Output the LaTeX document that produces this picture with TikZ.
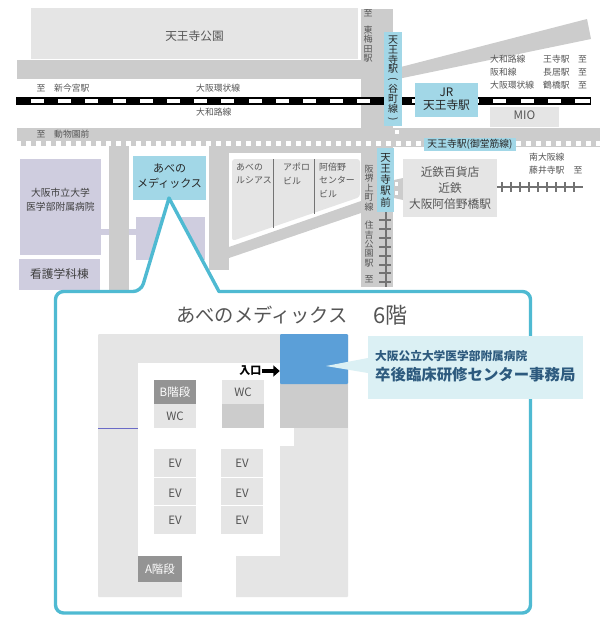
\documentclass[tikz,border=0pt]{standalone}
\usepackage{fontspec}
\setmainfont{Noto Sans CJK JP}
\usetikzlibrary{arrows.meta}
\definecolor{road}{HTML}{CCCCCC}
\definecolor{plan}{HTML}{E5E5E5}
\definecolor{ward}{HTML}{CFCDDF}
\definecolor{sky}{HTML}{A2D7E7}
\definecolor{frame}{HTML}{4FBAD2}
\definecolor{pale}{HTML}{DBF0F4}
\definecolor{office}{HTML}{5B9FD8}
\definecolor{ink}{HTML}{555555}
\definecolor{navy}{HTML}{2D5A7E}
\newcommand{\vparen}[1]{\raisebox{5pt}[0pt][0pt]{\rotatebox{-90}{#1}}}
\begin{document}
\begin{tikzpicture}
[
  x=1pt,y=-1pt,
  roadway/.style={fill=road},
  block/.style={fill=plan,rounded corners=2.5pt},
  lilac/.style={fill=ward,rounded corners=3pt},
  station/.style={fill=sky,rounded corners=3pt},
  stair/.style={fill=black!42,rounded corners=1pt},
  small/.style={inner sep=0pt,text=ink,font=\fontsize{8.8}{10}\selectfont},
  placename/.style={inner sep=0pt,text=ink,align=center,font=\fontsize{11.7}{16}\selectfont},
  tiny/.style={inner sep=0pt,text=ink,align=left,font=\fontsize{8.9}{13.3}\selectfont},
  down/.style={inner sep=0pt,text=ink,align=center,font=\fontsize{9}{9.4}\selectfont},
  dark/.style={inner sep=0pt,text=black!85,align=center},
  room/.style={inner sep=0pt,text=ink,font=\fontsize{11.5}{13}\selectfont},
  stairtext/.style={inner sep=0pt,text=white,font=\fontsize{11.5}{13}\selectfont},
  track/.style={draw=black!55,line width=1.3pt},
  callout/.style={draw=frame,line width=3.4pt,fill=white,line join=round}
]
\useasboundingbox (0,0) rectangle (610,622);

% roads
\fill (17,60) rectangle (361,79) [roadway];
\fill (361,9) rectangle (393,287) [roadway];
\fill (17,128) rectangle (600,147) [roadway];
\fill (109,147) rectangle (129,290) [roadway];
\fill (209,147) rectangle (229,270) [roadway];
\fill (229,147) rectangle (361,153) [roadway];
\fill (393,69) -- (587,19) -- (591,39) -- (393,80) -- cycle [roadway];
\fill (229,247) -- (361,201) -- (361,213) -- (229,258) -- cycle [roadway];
\foreach \x in {16,26,...,596}
  \fill[white] (\x,141) rectangle +(5,5);
\fill[white] (395,130) rectangle +(4,4);
\fill[white] (17,146) rectangle (109,148);
\fill[white] (129,146) rectangle (209,148);

% park
\fill (31,8) rectangle (358,59) [block] node[midway,placename,yshift=-2.5pt] (park) {天王寺公園};

% JR line
\fill (16,97) rectangle (591,105);
\foreach \n in {0,...,20}
  \fill[white] (31+27.2*\n,99) rectangle +(13,4);
\fill[white] (577,99) rectangle +(13,4);

\node[small] (toshin) at (41,88) {至};
\node[small,anchor=west] (shinimamiya) at (54,88) {新今宮駅};
\node[small,anchor=west] (kanjo) at (196,88) {大阪環状線};
\node[small,anchor=west] (yamatoji) at (196,112) {大和路線};
\node[small] (todo) at (41,134) {至};
\node[small,anchor=west] (dobutsuen) at (54,134) {動物園前};

\node[down] (tohigashi) at (368,13) {至};
\node[down] (higashiumeda) at (368,44) {東\\梅\\田\\駅};

% tanimachi line
\fill (384,32) rectangle (402,126) [station];
\node[dark,font=\fontsize{10}{9.9}\selectfont] (tanimachi) at (393,79) {天\\王\\寺\\駅\\\vparen{(}\\谷\\町\\線\\\vparen{)}};

\fill (415,83) rectangle (478,117) [station] node[midway,dark,yshift=1pt,font=\fontsize{11.7}{13.5}\selectfont] (jr) {JR\\天王寺駅};
\fill (490,107) rectangle (559,127) [block] node[midway,placename,yshift=2pt] (mio) {MIO};

\node[tiny,anchor=north west,font=\fontsize{8.8}{13}\selectfont] (linesE) at (490,55) {大和路線\\阪和線\\大阪環状線};
\node[tiny,anchor=north west,font=\fontsize{8.8}{13}\selectfont] (stationsE) at (543,55) {王寺駅\\長居駅\\鶴橋駅};
\node[tiny,anchor=north west,font=\fontsize{8.8}{13}\selectfont] (toE) at (578,55) {至\\至\\至};

\fill (424,138) rectangle (516,151) [station] node[midway,dark,font=\fontsize{9.8}{11}\selectfont] (midosuji) {天王寺駅(御堂筋線)};

% hospital side
\fill (20,159) rectangle (101,255) [lilac] node[midway,dark,yshift=7pt,text=black!75,font=\fontsize{9.8}{14.5}\selectfont] (hospital) {大阪市立大学\\医学部附属病院};
\fill (19,259) rectangle (100,290) [lilac] node[midway,dark,text=black!75,font=\fontsize{11.7}{13}\selectfont] (nursing) {看護学科棟};
\fill[ward] (101,229) rectangle (109,235);
\fill[ward] (129,229) rectangle (137,235);
\fill (136,217) rectangle (205,260) [lilac];
\fill (133,156) rectangle (206,200) [station] node[midway,dark,yshift=1.5pt,font=\fontsize{11}{15}\selectfont] (medix) {あべの\\メディックス};

% shops
\fill[plan,rounded corners=3pt] (232,159) -- (360,159) -- (360,197) -- (232,241) -- cycle;
\draw[black!55,thick] (273,159) -- (273,228);
\draw[black!55,thick] (314,159) -- (314,214);
\node[tiny,anchor=north west] (lucias) at (236,163) {あべの\\ルシアス};
\node[tiny,anchor=north west] (apollo) at (283,163) {アポロ\\ビル};
\node[tiny,anchor=north west] (center) at (319,163) {阿倍野\\センター\\ビル};

% streetcar
\draw[track] (386,212) -- (386,287);
\foreach \y in {220,229,238,247,256,265,273,282}
  \draw[track] (379,\y) -- (391,\y);
\fill (377,148) rectangle (394,212) [station];
\node[dark,font=\fontsize{10.5}{11.2}\selectfont] (ekimae) at (385.5,180) {天\\王\\寺\\駅\\前};
\node[down] (hankai) at (369,188) {阪\\堺\\上\\町\\線};
\node[down] (sumiyoshi) at (369,244) {住\\吉\\公\\園\\駅};
\node[down] (tostreet) at (369,279) {至};

% kintetsu
\fill[road] (394,180) -- (403,178) -- (403,200) -- (394,198) -- cycle;
\fill[white] (395,182) rectangle +(3,4);
\fill[white] (395,191) rectangle +(3,4);
\fill (403,159) rectangle (497,217) [block] node[midway,placename] (kintetsu) {近鉄百貨店\\近鉄\\大阪阿倍野橋駅};
\draw[track] (497,187) -- (583,187);
\foreach \x in {502,511,...,574}
  \draw[track] (\x,182) -- (\x,192);
\node[small,anchor=west] (minami) at (529,157) {南大阪線};
\node[small,anchor=west] (fujiidera) at (529,170) {藤井寺駅};
\node[small] (tofuji) at (578,170) {至};

% callout
\draw[callout,rounded corners=8pt] (55.5,400) -- (55.5,291.5) -- (141,291.5) [sharp corners] -- (169,198) -- (219,291.5) [rounded corners=8pt] -- (530.5,291.5) -- (530.5,613) -- (55.5,613) -- cycle;

\node[inner sep=0pt,text=ink,anchor=west,font=\fontsize{19.3}{22}\selectfont] (title) at (176,315) {あべのメディックス};
\node[inner sep=0pt,text=ink,anchor=west,font=\fontsize{22}{24}\selectfont] (floor) at (373,315) {6階};

% floor plan
\fill[plan,rounded corners=1pt] (98,334) rectangle (348,597);
\fill[white] (138,363) rectangle (280,556);
\fill[white] (280,428) rectangle (294,446);
\fill[white] (182,556) rectangle (236,598);
\draw[blue!45!gray!80] (98,428) -- (138,428);
\fill (280,384) rectangle (348,428) [fill=road,rounded corners=1pt];
\node[fill=office,rounded corners=1pt,inner sep=0pt,minimum width=68pt,minimum height=50pt] (office) at (314,359) {};

\fill (154,380) rectangle +(42,24) [stair] node[midway,stairtext] (bstair) {B階段};
\fill (154,404) rectangle +(42,24) [block] node[midway,room] (wcleft) {WC};
\fill (222,380) rectangle +(42,24) [block] node[midway,room] (wcright) {WC};
\fill (222,404) rectangle +(42,24) [fill=road,rounded corners=1pt];

\fill (154,449) rectangle +(42,27.6) [block] node[midway,room] (evA) {EV};
\fill (154,477.5) rectangle +(42,27.6) [block] node[midway,room,yshift=-1.5pt] (evB) {EV};
\fill (154,506) rectangle +(42,28) [block] node[midway,room] (evC) {EV};
\fill (221,449) rectangle +(42,27.6) [block] node[midway,room] (evD) {EV};
\fill (221,477.5) rectangle +(42,27.6) [block] node[midway,room,yshift=-1.5pt] (evE) {EV};
\fill (221,506) rectangle +(42,28) [block] node[midway,room] (evF) {EV};
\fill (138,556) rectangle +(44,26) [stair] node[midway,stairtext] (astair) {A階段};

\node[inner sep=0pt,anchor=east,font=\fontsize{11}{13}\bfseries\selectfont] (entrance) at (261.5,371) {入口};
\draw [-{Triangle[length=6.5pt,width=11pt]},line width=4pt] (entrance) -- (office.west |- entrance);

% office label
\fill[pale] (368,336) rectangle (583,399);
\fill[pale] (326,366) -- (368,358) -- (368,373) -- cycle;
\node[inner sep=0pt,anchor=west,text=navy,font=\fontsize{11.7}{14}\bfseries\selectfont] (dept) at (375,356) {大阪公立大学医学部附属病院};
\node[inner sep=0pt,anchor=west,text=navy,font=\fontsize{15.4}{18}\bfseries\selectfont] (centre) at (375,375) {卒後臨床研修センター事務局};

\end{tikzpicture}
\end{document}
